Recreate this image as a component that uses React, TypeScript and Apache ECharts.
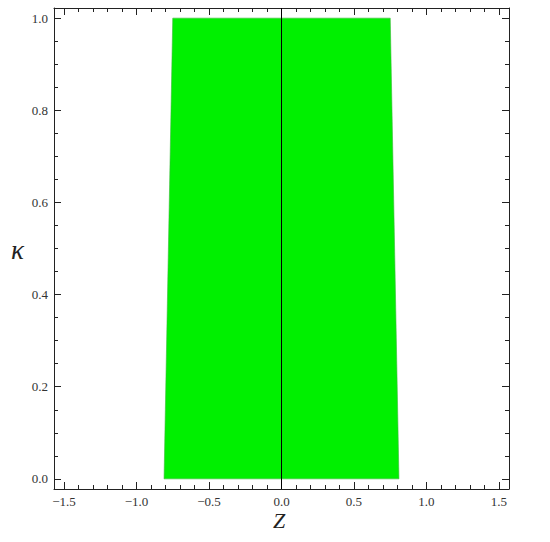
import React, { useEffect, useRef } from "react";
import * as echarts from "echarts";

// Region boundary (z values) at kappa = 0 and kappa = 1
const kappaLevels = [0, 1];
const zLeft = [-0.81, -0.75];
const zRight = [0.81, 0.75];

const xMajorTicks = [-1.5, -1.0, -0.5, 0.0, 0.5, 1.0, 1.5];
const xMinorTicks = [
  -1.5, -1.4, -1.3, -1.2, -1.1, -1.0, -0.9, -0.8, -0.7, -0.6, -0.5, -0.4, -0.3, -0.2, -0.1, 0,
  0.1, 0.2, 0.3, 0.4, 0.5, 0.6, 0.7, 0.8, 0.9, 1.0, 1.1, 1.2, 1.3, 1.4, 1.5,
];
const yMajorTicks = [0.0, 0.2, 0.4, 0.6, 0.8, 1.0];
const yMinorTicks = [
  0, 0.05, 0.1, 0.15, 0.2, 0.25, 0.3, 0.35, 0.4, 0.45, 0.5, 0.55, 0.6, 0.65, 0.7, 0.75, 0.8,
  0.85, 0.9, 0.95, 1.0,
];

const X_MIN = -1.569;
const X_MAX = 1.569;
const Y_MIN = -0.022;
const Y_MAX = 1.022;

const FONT = "Liberation Serif";

export default function App() {
  const ref = useRef<HTMLDivElement>(null);
  useEffect(() => {
    document.body.style.margin = "0";
    if (!ref.current) return;
    const chart = echarts.init(ref.current, null, { renderer: "svg" });

    const polygon: number[][] = [];
    for (let i = 0; i < kappaLevels.length; i++) polygon.push([zLeft[i], kappaLevels[i]]);
    for (let i = kappaLevels.length - 1; i >= 0; i--) polygon.push([zRight[i], kappaLevels[i]]);

    const mkX = (pos: string, ticks: number[], len: number, labels: boolean, line: boolean) => ({
      type: "value",
      position: pos,
      min: X_MIN,
      max: X_MAX,
      axisLine: { show: line, onZero: false, lineStyle: { color: "#222", width: 1 } },
      axisTick: { show: true, inside: true, length: len, customValues: ticks, lineStyle: { color: "#222", width: 1 } },
      axisLabel: labels
        ? {
            show: true,
            customValues: xMajorTicks,
            formatter: (v: number) => (v < 0 ? "\u2212" + Math.abs(v).toFixed(1) : v.toFixed(1)),
            fontFamily: FONT,
            fontSize: 13,
            lineHeight: 13,
            color: "#333",
            margin: 6,
          }
        : { show: false },
      splitLine: { show: false },
    });
    const mkY = (pos: string, ticks: number[], len: number, labels: boolean, line: boolean) => ({
      type: "value",
      position: pos,
      min: Y_MIN,
      max: Y_MAX,
      axisLine: { show: line, onZero: false, lineStyle: { color: "#222", width: 1 } },
      axisTick: { show: true, inside: true, length: len, customValues: ticks, lineStyle: { color: "#222", width: 1 } },
      axisLabel: labels
        ? {
            show: true,
            customValues: yMajorTicks,
            formatter: (v: number) => v.toFixed(1),
            fontFamily: FONT,
            fontSize: 13,
            color: "#333",
            margin: 6,
          }
        : { show: false },
      splitLine: { show: false },
    });

    chart.setOption({
      animation: false,
      backgroundColor: "#fff",
      grid: { left: 54, top: 8, right: 41, bottom: 53, containLabel: false },
      xAxis: [
        mkX("bottom", xMajorTicks, 7, true, true),
        mkX("bottom", xMinorTicks, 4, false, false),
        mkX("top", xMajorTicks, 7, false, true),
        mkX("top", xMinorTicks, 4, false, false),
      ],
      yAxis: [
        mkY("left", yMajorTicks, 7, true, true),
        mkY("left", yMinorTicks, 4, false, false),
        mkY("right", yMajorTicks, 7, false, true),
        mkY("right", yMinorTicks, 4, false, false),
      ],
      series: [
        {
          type: "custom",
          xAxisIndex: 0,
          yAxisIndex: 0,
          data: [[0, 0]],
          renderItem: (_params: any, api: any) => ({
            type: "polygon",
            shape: { points: polygon.map((p) => api.coord(p)) },
            style: { fill: "#00f000", stroke: "#3ab83a", lineWidth: 0.6 },
          }),
          z: 1,
        },
        {
          type: "line",
          xAxisIndex: 0,
          yAxisIndex: 0,
          data: [
            [0, Y_MIN],
            [0, Y_MAX],
          ],
          symbol: "none",
          lineStyle: { color: "#000", width: 1 },
          z: 3,
        },
      ],
      graphic: [
        {
          type: "text",
          left: 273,
          top: 509,
          style: { text: "Z", font: `italic 22px "${FONT}"`, lineHeight: 14, fill: "#222" },
        },
        {
          type: "text",
          left: 11,
          top: 236,
          style: { text: "\u03ba", font: `italic 27px "${FONT}"`, lineHeight: 20, fill: "#222" },
        },
      ],
    });
    return () => chart.dispose();
  }, []);
  return <div ref={ref} style={{ width: 550, height: 542 }} />;
}
